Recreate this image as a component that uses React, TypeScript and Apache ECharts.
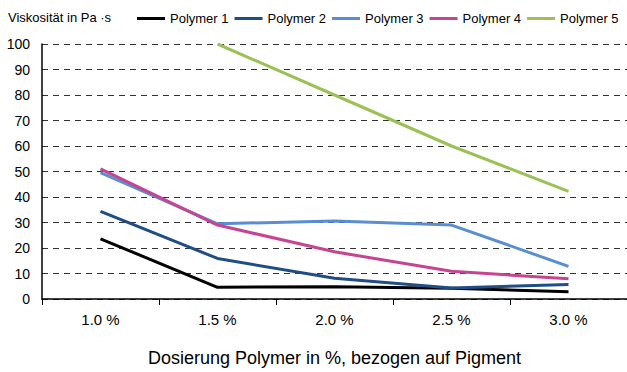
import React, { useEffect, useRef } from "react";
import * as echarts from "echarts";

const categories = ["1.0 %", "1.5 %", "2.0 %", "2.5 %", "3.0 %"];
const polymer1 = [23.6, 4.6, 4.8, 4.2, 2.8];
const polymer2 = [34.4, 15.9, 8.1, 4.3, 5.7];
const polymer3 = [49.6, 29.5, 30.6, 29.0, 12.8];
const polymer4 = [51.0, 29.0, 18.5, 10.9, 7.9];
const polymer5: (number | null)[] = [null, 100, 80, 60, 42.2];
const seriesNames = ["Polymer 1", "Polymer 2", "Polymer 3", "Polymer 4", "Polymer 5"];
const colors = ["#000000", "#204d85", "#5a8ed2", "#c64492", "#9bc155"];

const FONT = "'Liberation Sans', Arial, sans-serif";

export default function App() {
  const ref = useRef<HTMLDivElement>(null);
  useEffect(() => {
    if (!ref.current) return;
    const chart = echarts.init(ref.current, null, { renderer: "svg" });
    const data = [polymer1, polymer2, polymer3, polymer4, polymer5];
    chart.setOption({
      animation: false,
      backgroundColor: "#ffffff",
      textStyle: { fontFamily: FONT },
      graphic: [
        {
          type: "text",
          left: 8,
          top: 11,
          style: { text: "Viskosität in Pa ·s", font: `13px ${FONT}`, fill: "#000" },
        },
      ],
      legend: {
        left: 137,
        top: 12,
        width: 490,
        padding: 0,
        itemWidth: 28,
        itemHeight: 3,
        itemGap: 6,
        icon: "rect",
        textStyle: { fontFamily: FONT, fontSize: 13, color: "#000" },
        data: seriesNames,
      },
      grid: { left: 42, top: 44, width: 590, height: 258 },
      xAxis: {
        type: "category",
        data: categories,
        boundaryGap: true,
        axisLine: { lineStyle: { color: "#000", width: 1.5 } },
        axisTick: { show: true, length: 6, lineStyle: { color: "#000" } },
        axisLabel: { fontFamily: FONT, fontSize: 15, color: "#000", margin: 13 },
        name: "Dosierung Polymer in %, bezogen auf Pigment",
        nameLocation: "middle",
        nameGap: 50,
        nameTextStyle: { fontFamily: FONT, fontSize: 18, color: "#000" },
      },
      yAxis: {
        type: "value",
        min: 0,
        max: 100,
        interval: 10,
        axisLine: { show: true, lineStyle: { color: "#000", width: 1.5 } },
        axisTick: { show: false },
        axisLabel: { fontFamily: FONT, fontSize: 14, color: "#000", margin: 12 },
        splitLine: { lineStyle: { color: "#333", type: [6, 5], width: 1 } },
      },
      series: seriesNames.map((n, i) => ({
        name: n,
        type: "line",
        data: data[i],
        symbol: "none",
        color: colors[i],
        lineStyle: { width: 3, color: colors[i] },
      })),
    });
    return () => chart.dispose();
  }, []);
  return <div ref={ref} style={{ width: 627, height: 372, position: "absolute", left: 0, top: 0 }} />;
}
